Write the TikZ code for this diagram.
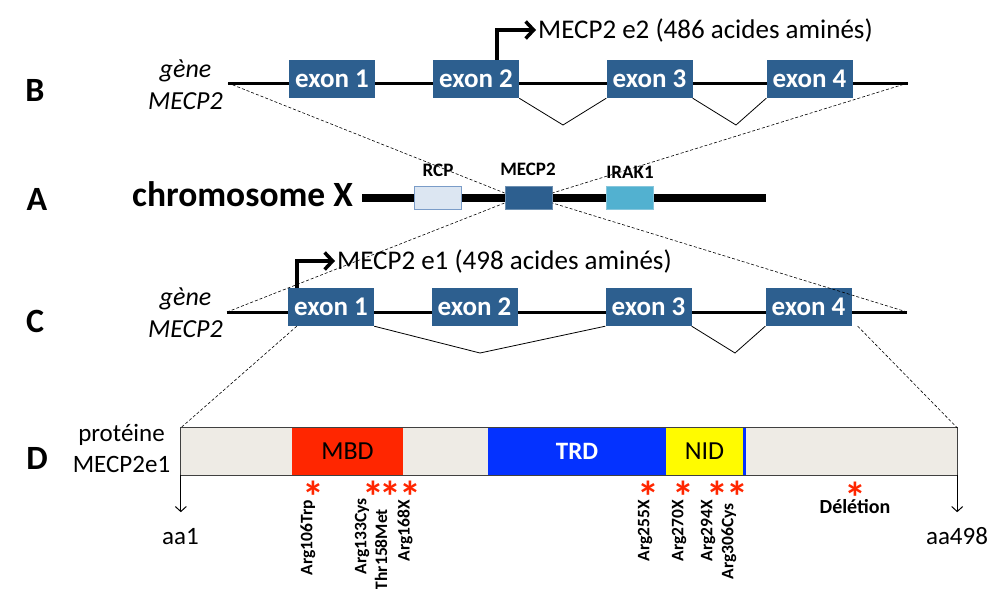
\documentclass[tikz,border=0pt]{standalone}
\usepackage{fontspec}
\setmainfont{Carlito}
\usetikzlibrary{arrows.meta}
\definecolor{exonblue}{HTML}{2D5F8F}
\definecolor{rcpfill}{HTML}{DCE6F2}
\definecolor{rcpdraw}{HTML}{7A9CC8}
\definecolor{irakfill}{HTML}{52B1D0}
\definecolor{irakdraw}{HTML}{86C6DC}
\definecolor{barfill}{HTML}{EEEBE5}
\definecolor{mbdred}{HTML}{FF2600}
\definecolor{trdblue}{HTML}{0432FF}
\definecolor{nidyellow}{HTML}{FFFB00}
\definecolor{starred}{HTML}{FF2600}
\newcommand{\mutstar}{\raisebox{-0.4em}[0.32em][0pt]{*}}
\begin{document}
\begin{tikzpicture}[x=1pt,y=-1pt,
  exonbox/.style={fill=exonblue, text=white, font=\bfseries\fontsize{27}{30}\selectfont, minimum width=86pt, minimum height=38pt, inner sep=0},
  geneline/.style={line width=3pt},
  splice/.style={line width=0.8pt},
  zoomline/.style={dash pattern=on 3pt off 2pt, line width=0.6pt},
  tss/.style={line width=3.5pt, -{Straight Barb[length=8pt,width=17pt]}},
  mut/.style={rotate=90, anchor=east, inner sep=0, font=\bfseries\fontsize{17.5}{18}\selectfont},
  star/.style={text=starred, anchor=north, inner sep=0, font=\bfseries\fontsize{44}{44}\selectfont},
  rowlab/.style={font=\bfseries\fontsize{34}{34}\selectfont, inner sep=0},
  chrbox/.style={minimum width=47pt, minimum height=23pt, inner sep=0, line width=0.8pt},
  chrlab/.style={font=\bfseries\fontsize{19}{19}\selectfont, inner sep=0, anchor=base},
  lbl/.style={font=\fontsize{25}{31}\selectfont, inner sep=0},
  ttl/.style={font=\fontsize{27}{31}\selectfont, inner sep=0, anchor=west},
  ital/.style={font=\itshape\fontsize{26}{32}\selectfont, inner sep=0, align=center, anchor=south},
  dombox/.style={minimum height=47pt, inner sep=0, font=\fontsize{26}{30}\selectfont},
  aarrow/.style={line width=1pt, -{Straight Barb[length=5pt,width=11pt]}}
]
\useasboundingbox (0,0) rectangle (1004,589);

% ---------- row labels
\node[rowlab] (lB) at (35,90) {B};
\node[rowlab] (lA) at (37,199) {A};
\node[rowlab] (lC) at (35,321) {C};
\node[rowlab] (lD) at (37,458) {D};

% ---------- A : chromosome
\node[font=\bfseries\fontsize{35.5}{36}\selectfont, inner sep=0, anchor=base west] (chrX) at (132,206) {chromosome X};
\coordinate (chrS) at (362,198);
\coordinate (chrE) at (766,198);
\draw[line width=8pt] (chrS) -- (chrE);
\node[chrbox, fill=rcpfill, draw=rcpdraw] (rcp) at (438,198) {};
\node[chrbox, fill=exonblue, draw=exonblue!70!white] (chrM) at (528.5,198) {};
\node[chrbox, fill=irakfill, draw=irakdraw] (irak) at (629.5,198) {};
\node[chrlab] (rcpT) at (438,176) {RCP};
\node[chrlab] (mecT) at (528,175) {MECP2};
\node[chrlab] (irakT) at (630,178) {IRAK1};

% ---------- B : gene (e2)
\coordinate (gBs) at (228,83);
\coordinate (gBe) at (908,83);
\draw[geneline] (gBs) -- (gBe);
\node[exonbox] (b1) at (332,79) {exon 1};
\node[exonbox] (b2) at (476,79) {exon 2};
\node[exonbox] (b3) at (649.5,79) {exon 3};
\node[exonbox] (b4) at (809.5,79) {exon 4};
\coordinate (bv1) at (563,125);
\coordinate (bv2) at (736,125);
\draw[splice] (b2.south east) -- (bv1) -- (b3.south west);
\draw[splice] (b3.south east) -- (bv2) -- (b4.south west);
\node[ital] (gB) at (185.5,110) {gène\\MECP2};
\node[ttl] (e2txt) at (538,30) {MECP2 e2 (486 acides aminés)};
\draw[tss] ([xshift=21pt]b2.north) |- ([xshift=-2pt]e2txt.west);

% ---------- C : gene (e1)
\coordinate (gCs) at (227,312);
\coordinate (gCe) at (907,312);
\draw[geneline] (gCs) -- (gCe);
\node[exonbox] (c1) at (331,307) {exon 1};
\node[exonbox] (c2) at (474.5,307) {exon 2};
\node[exonbox] (c3) at (648.5,307) {exon 3};
\node[exonbox] (c4) at (808.5,307) {exon 4};
\coordinate (cv1) at (480,353);
\coordinate (cv2) at (735,353);
\draw[splice] (c1.south east) -- (cv1) -- (c3.south west);
\draw[splice] (c3.south east) -- (cv2) -- (c4.south west);
\node[ital] (gC) at (185.5,338) {gène\\MECP2};
\node[ttl] (e1txt) at (337,261) {MECP2 e1 (498 acides aminés)};
\draw[tss] ([xshift=-34pt]c1.north) |- ([xshift=-2pt]e1txt.west);

% ---------- zoom (dashed) lines
\draw[zoomline] (gBs) -- ([yshift=5pt]chrM.west);
\draw[zoomline] (gBe) -- ([yshift=5pt]chrM.east);
\draw[zoomline] (gCs) -- ([yshift=-5pt]chrM.west);
\draw[zoomline] (gCe) -- ([yshift=-5pt]chrM.east);

% ---------- D : protein
\node[minimum width=776pt, minimum height=47pt, inner sep=0, fill=barfill] (bar) at (569,451.5) {};
\node[dombox, fill=mbdred, minimum width=111pt] (mbd) at (347.5,451.5) {MBD};
\node[dombox, fill=trdblue, minimum width=178pt, text=white, font=\bfseries\fontsize{25}{30}\selectfont] (trd) at (577,451.5) {TRD};
\node[dombox, fill=nidyellow, minimum width=77pt] (nid) at (704.5,451.5) {NID};
\node[fill=trdblue, minimum width=2.5pt, minimum height=47pt, inner sep=0] (nidedge) at (744.5,451.5) {};
\draw[line width=0.8pt, black!75] (bar.north west) rectangle (bar.south east);
\node[lbl, align=center, anchor=south] (prot) at (121.5,473) {protéine\\MECP2e1};

\draw[zoomline] ([xshift=9pt]c1.south west) -- (bar.north west);
\draw[zoomline] ([xshift=6pt]c4.south east) -- (bar.north east);

\node[lbl, anchor=base] (aa1) at (180.5,544) {aa1};
\node[lbl, anchor=base] (aa498) at (957,544) {aa498};
\draw[aarrow] (bar.south west) -- ++(0,37);
\draw[aarrow] (bar.south east) -- ++(0,37);

% mutations
\node[star] (s1) at (313,481) {\mutstar};
\node[star] (s2) at (373,481) {\mutstar};
\node[star] (s3) at (390.5,481) {\mutstar};
\node[star] (s4) at (410,481) {\mutstar};
\node[star] (s5) at (648.5,481) {\mutstar};
\node[star] (s6) at (683,481) {\mutstar};
\node[star] (s7) at (717,481) {\mutstar};
\node[star] (s8) at (737.5,481) {\mutstar};
\node[star] (s9) at (855,482) {\mutstar};

\node[mut] (m1) at (308,500) {Arg106Trp};
\node[mut] (m2) at (362,498) {Arg133Cys};
\node[mut] (m3) at (381,509) {Thr158Met};
\node[mut] (m4) at (405,500) {Arg168X};
\node[mut] (m5) at (645,500) {Arg255X};
\node[mut] (m6) at (679,500) {Arg270X};
\node[mut] (m7) at (708,500) {Arg294X};
\node[mut] (m8) at (729,503) {Arg306Cys};
\node[font=\bfseries\fontsize{20}{20}\selectfont, inner sep=0, anchor=base] (del) at (855,513) {Délétion};
\end{tikzpicture}
\end{document}
